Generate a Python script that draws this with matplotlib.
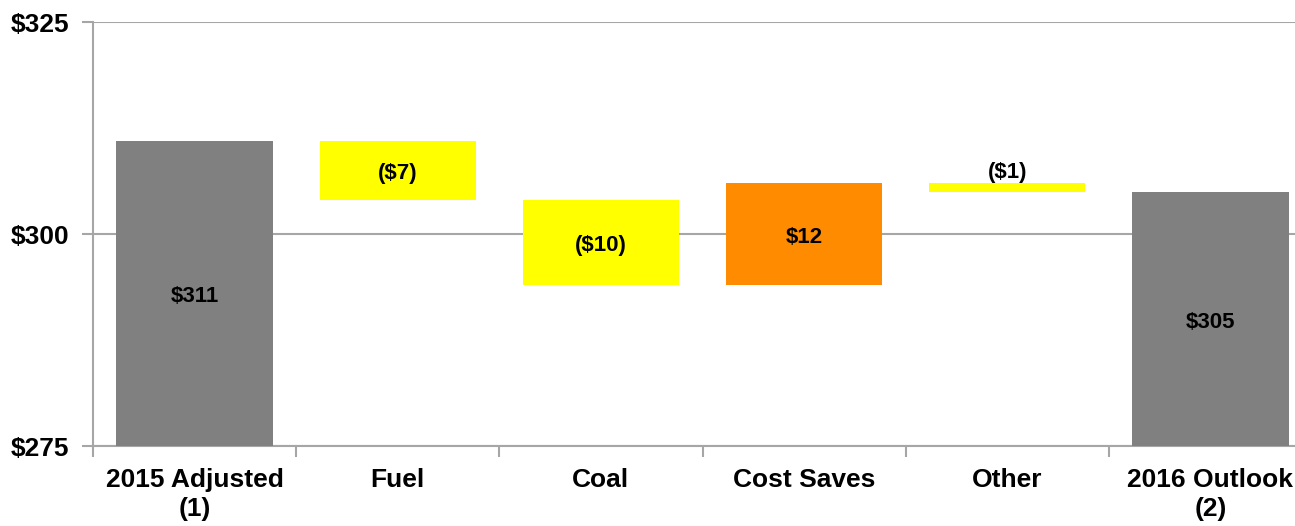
import matplotlib
matplotlib.use("Agg")
import matplotlib.pyplot as plt
from matplotlib.ticker import FixedLocator, NullFormatter

plt.rcParams['font.family'] = ['Liberation Sans', 'DejaVu Sans']

categories = ["2015 Adjusted\n(1)", "Fuel", "Coal", "Cost Saves", "Other", "2016 Outlook\n(2)"]
bar_bottoms = [275, 304, 294, 294, 305, 275]
bar_tops = [311, 311, 304, 306, 306, 305]
bar_labels = ["$311", "($7)", "($10)", "$12", "($1)", "$305"]
bar_colors = ["#808080", "#FFFF00", "#FFFF00", "#FF8C00", "#FFFF00", "#808080"]
y_ticks = [275, 300, 325]
y_tick_labels = ["$275", "$300", "$325"]

W, H = 1295, 526
fig = plt.figure(figsize=(W / 100, H / 100), dpi=100)
# plot area runs slightly past the right edge of the canvas
ax = fig.add_axes([93 / W, 1 - 446 / H, (1312 - 93) / W, (446 - 22) / H])

x = list(range(len(categories)))
heights = [t - b for t, b in zip(bar_tops, bar_bottoms)]
ax.bar(x, heights, bottom=bar_bottoms, width=0.77, color=bar_colors, zorder=3)

for xi, b, t, lab in zip(x, bar_bottoms, bar_tops, bar_labels):
    if t - b < 2:
        ax.text(xi, t, lab, ha="center", va="bottom", fontsize=16,
                fontweight="bold", zorder=4)
    else:
        ax.annotate(lab, (xi, (b + t) / 2), xytext=(0, -2.5), textcoords="offset points",
                    ha="center", va="center", fontsize=16, fontweight="bold", zorder=4)

ax.set_xlim(-0.5, 5.5)
ax.set_ylim(275, 325)

grid_color = "#A6A6A6"
ax.set_yticks(y_ticks)
ax.set_yticklabels(y_tick_labels, fontsize=19, fontweight="bold")
ax.yaxis.grid(True, color=grid_color, linewidth=1.5, zorder=0)
ax.tick_params(axis="y", direction="out", length=8, width=1.5, color=grid_color, pad=9)

ax.set_xticks(x)
ax.set_xticklabels(categories, fontsize=19, fontweight="bold", linespacing=1.25)
ax.tick_params(axis="x", which="major", length=0, pad=16)
ax.xaxis.set_minor_locator(FixedLocator([i - 0.5 for i in range(len(categories) + 1)]))
ax.xaxis.set_minor_formatter(NullFormatter())
ax.tick_params(axis="x", which="minor", direction="out", length=8, width=1.5, color=grid_color)

for side in ["top", "right"]:
    ax.spines[side].set_visible(False)
for side in ["left", "bottom"]:
    ax.spines[side].set_color(grid_color)
    ax.spines[side].set_linewidth(1.5)

fig.savefig("out.png", dpi=100)
